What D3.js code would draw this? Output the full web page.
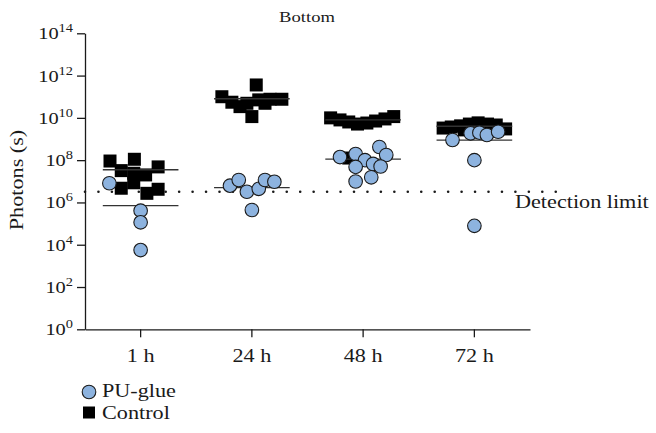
<!DOCTYPE html>
<html><head><meta charset="utf-8">
<script src="https://cdn.jsdelivr.net/npm/d3@7"></script>
<style>
body{margin:0;background:#fff}
svg{display:block}
text{font-family:"Liberation Serif","Times New Roman",serif;fill:#1a1a1a}
</style>
</head><body>
<svg id="chart" width="656" height="433"></svg>
<script>
// ---------- data ----------
const categories = ["1 h", "24 h", "48 h", "72 h"];
const yTickValues = [1, 1e2, 1e4, 1e6, 1e8, 1e10, 1e12, 1e14];
const yTickExponents = ["0", "2", "4", "6", "8", "10", "12", "14"];
const detectionLimit = 3.2e6;

// Control (squares), photons per group
const control1h  = [9.1e7, 1.1e8, 4.8e7, 3.2e7, 2.4e7, 2.0e7, 4.7e6, 2.7e6, 4.2e6, 8.5e6];
const control24h = [1.0e11, 5.5e10, 3.4e10, 4.9e10, 3.6e11, 7.1e10, 1.15e10, 4.9e10, 7.6e10, 7.6e10];
const control48h = [1.0e10, 8.0e9, 6.4e9, 5.1e9, 5.7e9, 7.1e9, 8.9e9, 1.15e10, 1.26e8];
const control72h = [3.3e9, 3.7e9, 4.2e9, 5.1e9, 5.8e9, 5.1e9, 4.6e9, 3.0e9, 2.7e9, 2.4e9];
// horizontal dodge of each point, in marker widths
const control1hDodge  = [-2.45, -0.5, 1.4, -1.55, -0.55, 0.4, -1.55, 0.5, 1.4, -0.55];
const control24hDodge = [-2.4, -1.6, -0.95, -0.4, 0.35, 0.55, 0, 1.05, 1.45, 2.4];
const control48hDodge = [-2.6, -1.85, -1.15, -0.45, 0.3, 1.0, 1.75, 2.45, -1.15];
const control72hDodge = [-2.5, -1.85, -1.1, -0.4, 0.3, 1.05, 1.75, 2.5, -0.8, 1.35];

// PU-glue (circles)
const pu1h  = [8.1e6, 4.1e5, 1.15e5, 5.6e3];
const pu24h = [6.2e6, 1.15e7, 3.2e6, 4.4e6, 1.15e7, 9.5e6, 4.4e5];
const pu48h = [1.4e8, 1.95e8, 1.0e8, 4.8e7, 6.6e7, 4.2e8, 1.75e8, 5.0e7, 1.55e7, 9.8e6];
const pu72h = [9.0e8, 1.86e9, 2.0e9, 1.55e9, 2.2e9, 1.0e8, 7.8e4];
const pu1hDodge  = [-2.5, 0, 0, 0];
const pu24hDodge = [-1.75, -1.05, -0.4, 0.55, 1.05, 1.8, 0];
const pu48hDodge = [-1.85, -0.6, 0.15, -0.6, 0.8, 1.3, 1.85, 1.4, 0.65, -0.6];
const pu72hDodge = [-1.75, -0.3, 0.4, 1.0, 1.9, 0, 0];

// group means (horizontal bars)
const controlMeans = [3.5e7, 8.0e10, 8.0e9, 4.0e9];
const puMeans = [7.1e5, 5.0e6, 1.12e8, 8.9e8];

const title = "Bottom";
const yLabel = "Photons (s)";
const limitLabel = "Detection limit";
const seriesNames = ["PU-glue", "Control"];

// ---------- drawing ----------
const controlSeries = [control1h, control24h, control48h, control72h];
const controlDodge = [control1hDodge, control24hDodge, control48hDodge, control72hDodge];
const puSeries = [pu1h, pu24h, pu48h, pu72h];
const puDodge = [pu1hDodge, pu24hDodge, pu48hDodge, pu72hDodge];

const SX = 1.2;          // horizontal stretch of the reference typeface
const FS = 18.5;
const ink = "#1a1a1a";
const puFill = "#8db3df";
const markerW = 12.5;
const sq = 13;
const rad = 6.8;

const svg = d3.select("#chart");
const x = d3.scaleBand().domain(categories).range([85, 530]).padding(0);
const y = d3.scaleLog().domain([1, 1e14]).range([329.3, 33.3]);
const cx = c => x(c) + x.bandwidth() / 2;

function label(parent, px, py, str, anchor, size, rotate) {
  const g = parent.append("g")
    .attr("transform", `translate(${px},${py})` + (rotate ? ` rotate(${rotate})` : "") + ` scale(${SX},1)`);
  return g.append("text").attr("text-anchor", anchor).attr("font-size", size).text(str);
}

// y axis
const yAxis = d3.axisLeft(y).tickValues(yTickValues).tickSize(8).tickSizeOuter(0).tickFormat("");
const gy = svg.append("g").attr("transform", "translate(85,0)").call(yAxis);
gy.selectAll("path,line").attr("stroke", ink).attr("stroke-width", 1.3);
yTickValues.forEach((v, i) => {
  const g = svg.append("g").attr("transform", `translate(73,${y(v) + 6}) scale(${SX},1)`);
  const t = g.append("text").attr("text-anchor", "end").attr("font-size", 17);
  t.append("tspan").text("10");
  t.append("tspan").attr("font-size", 12).attr("dy", -7).text(yTickExponents[i]);
});

// x axis
const xAxis = d3.axisBottom(x).tickSize(8).tickSizeOuter(0).tickFormat("");
const gx = svg.append("g").attr("transform", "translate(0,329.3)").call(xAxis);
gx.selectAll("path,line").attr("stroke", ink).attr("stroke-width", 1.3);
categories.forEach(c => label(svg, cx(c), 362, c, "middle", FS));

// detection limit (dotted)
svg.append("line")
  .attr("x1", 85).attr("x2", 556)
  .attr("y1", y(detectionLimit)).attr("y2", y(detectionLimit))
  .attr("stroke", ink).attr("stroke-width", 2.6)
  .attr("stroke-linecap", "round").attr("stroke-dasharray", "0 13.45");
label(svg, 515, 208, limitLabel, "start", FS);

// control squares
categories.forEach((c, i) => {
  svg.append("g").selectAll("rect").data(controlSeries[i]).join("rect")
    .attr("x", (d, j) => cx(c) + controlDodge[i][j] * markerW - sq / 2)
    .attr("y", d => y(d) - sq / 2)
    .attr("width", sq).attr("height", sq)
    .attr("fill", "#000");
});

// mean bars
const meanHalf = x.bandwidth() * 0.34;
[controlMeans, puMeans].forEach(means => {
  svg.append("g").selectAll("line").data(means).join("line")
    .attr("x1", (d, i) => cx(categories[i]) - meanHalf)
    .attr("x2", (d, i) => cx(categories[i]) + meanHalf)
    .attr("y1", d => y(d)).attr("y2", d => y(d))
    .attr("stroke", "#333").attr("stroke-width", 1.4);
});

// PU-glue circles
categories.forEach((c, i) => {
  svg.append("g").selectAll("circle").data(puSeries[i]).join("circle")
    .attr("cx", (d, j) => cx(c) + puDodge[i][j] * markerW)
    .attr("cy", d => y(d))
    .attr("r", rad)
    .attr("fill", puFill).attr("stroke", ink).attr("stroke-width", 1.1);
});

// title and y label
label(svg, 307, 22, title, "middle", 15.5);
label(svg, 23, 180, yLabel, "middle", FS, -90);

// legend
const lg = svg.append("g");
lg.append("circle").attr("cx", 89).attr("cy", 392).attr("r", rad)
  .attr("fill", puFill).attr("stroke", ink).attr("stroke-width", 1.1);
label(lg, 102, 397, seriesNames[0], "start", FS);
lg.append("rect").attr("x", 83).attr("y", 406.5).attr("width", 12).attr("height", 12).attr("fill", "#000");
label(lg, 102, 419, seriesNames[1], "start", FS);
</script>
</body></html>
